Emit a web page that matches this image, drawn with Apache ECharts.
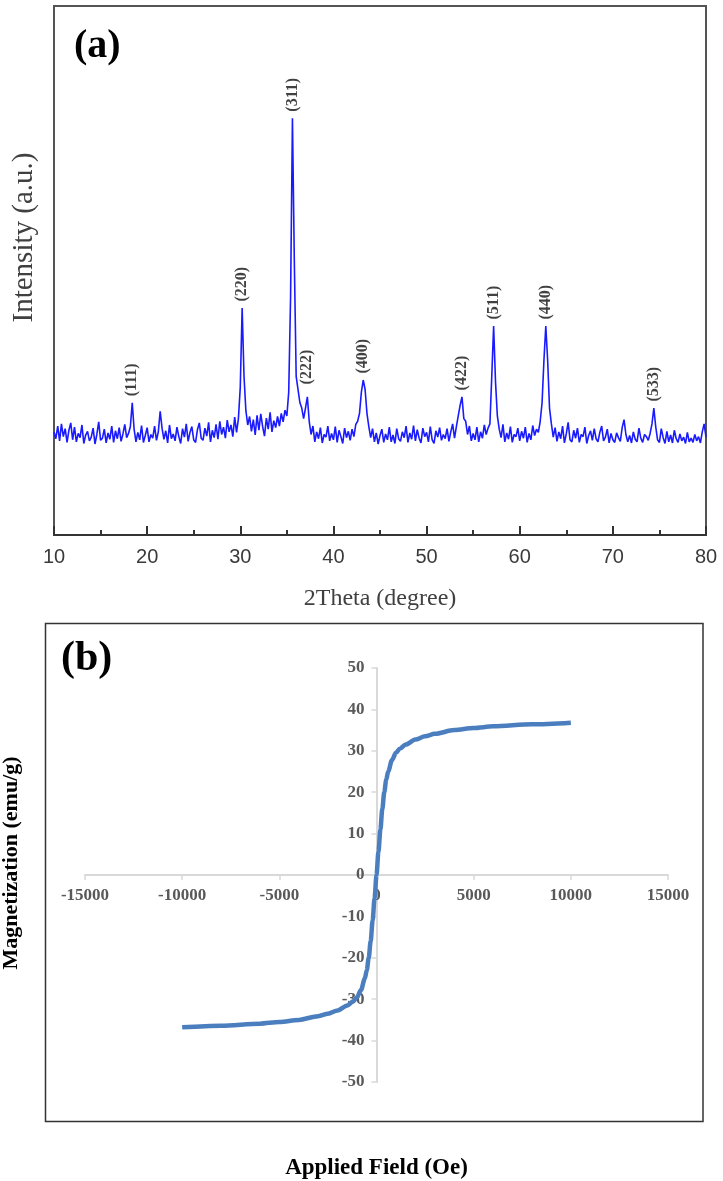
<!DOCTYPE html>
<html>
<head>
<meta charset="utf-8">
<script src="https://cdn.jsdelivr.net/npm/echarts@6/dist/echarts.min.js"></script>
<style>
html, body { margin: 0; padding: 0; background: #fff; }
#chart { width: 723px; height: 1181px; }
</style>
</head>
<body>
<div id="chart"></div>
<script>
// (a) XRD pattern, sampled every 0.2 degree from 10 to 80
var angleStart = 10
var angleStep = 0.2
var intensity = [
  19.5, 18.2, 20.6, 17.8, 21.0, 18.6, 20.1, 17.5, 19.8, 21.2,
  18.0, 20.4, 17.6, 19.2, 18.4, 20.8, 17.3, 18.9, 19.6, 17.8,
  18.5, 20.2, 17.2, 19.0, 21.4, 17.9, 18.3, 20.0, 17.4, 19.3,
  18.1, 20.6, 17.5, 19.7, 18.2, 20.3, 17.7, 19.1, 20.9, 18.4,
  19.2, 20.5, 25.0, 20.0, 17.6, 19.4, 18.0, 20.7, 17.5, 18.8,
  20.3, 17.6, 19.0, 18.3, 20.6, 17.9, 19.5, 23.4, 20.2, 18.1,
  19.7, 17.4, 20.8, 18.2, 19.1, 17.8, 20.4, 18.6, 17.3, 20.1,
  18.5, 21.0, 17.7, 19.4, 20.5, 18.0, 17.5, 19.9, 21.2, 18.3,
  17.9, 20.2, 18.7, 21.3, 17.6, 19.8, 18.4, 20.9, 18.1, 21.5,
  19.0, 20.4, 18.3, 21.7, 19.5, 20.8, 18.6, 22.3, 19.4, 22.0,
  28.0, 42.9, 30.0, 23.5, 20.8, 22.4, 19.6, 21.8, 18.9, 22.6,
  19.8, 22.9, 20.5, 18.7, 22.1, 20.0, 23.2, 19.5, 21.6, 20.3,
  22.4, 20.6, 23.0, 21.4, 23.6, 22.5, 27.0, 45.0, 78.8, 52.0,
  30.0, 27.5, 25.0, 24.0, 22.0, 24.0, 26.1, 21.5, 19.0, 20.6,
  17.6, 19.5, 18.2, 20.3, 17.4, 19.0, 18.5, 20.6, 17.8, 19.2,
  18.0, 20.5, 17.5, 19.8, 18.6, 17.3, 20.2, 18.4, 19.6, 17.9,
  20.0, 18.6, 20.9, 21.5, 23.0, 27.0, 29.3, 27.5, 23.0, 20.5,
  18.4, 20.1, 17.6, 19.3, 17.2, 18.8, 20.0, 17.5, 19.1, 18.0,
  20.4, 17.6, 18.9, 17.3, 20.1, 18.2, 17.7, 19.5, 18.4, 20.6,
  17.5, 19.3, 18.1, 20.7, 17.8, 19.9, 18.3, 17.4, 20.2, 18.6,
  19.4, 17.6, 20.5, 18.0, 17.3, 19.7, 18.5, 20.3, 17.9, 19.0,
  18.2, 20.1, 17.7, 19.5, 21.0, 18.3, 20.5, 22.5, 24.5, 26.1,
  22.0, 21.5, 19.0, 20.6, 17.8, 19.2, 18.0, 20.4, 17.6, 19.5,
  18.3, 20.8, 19.0, 20.2, 21.0, 30.0, 39.5, 29.0, 22.5, 20.0,
  18.4, 20.9, 17.6, 19.3, 18.1, 20.5, 17.5, 19.0, 18.6, 20.2,
  17.8, 19.6, 18.3, 20.4, 17.5, 19.2, 18.0, 20.7, 18.8, 20.0,
  19.4, 21.5, 25.0, 33.0, 39.5, 33.0, 24.0, 21.0, 18.5, 20.3,
  17.7, 19.5, 18.2, 20.6, 17.4, 19.1, 21.3, 18.0, 17.6, 19.8,
  18.3, 20.2, 17.5, 19.0, 18.6, 20.4, 17.3, 18.8, 19.7, 17.9,
  20.1, 18.2, 17.6, 19.4, 20.6, 17.8, 18.5, 20.0, 17.4, 19.2,
  18.0, 17.5, 19.3, 18.4, 17.7, 20.3, 21.8, 19.0, 17.6, 18.8,
  17.4, 19.5, 18.1, 17.6, 20.2, 18.3, 17.5, 19.0, 18.6, 17.9,
  19.2, 21.0, 24.0, 20.5, 18.0, 17.5, 20.1, 18.4, 17.3, 19.6,
  17.6, 18.9, 17.4, 19.8, 18.2, 17.5, 19.1, 17.8, 18.5, 17.3,
  19.4, 17.6, 18.3, 17.5, 19.0, 17.8, 18.6, 17.4, 19.5, 21.0,
  18.5
]
var angleTicks = [10, 20, 30, 40, 50, 60, 70, 80]

// peak indexing
var peakName = ['(111)', '(220)', '(311)', '(222)', '(400)', '(422)', '(511)', '(440)', '(533)']
var peakAngle = [18.4, 30.2, 35.6, 37.2, 43.2, 53.8, 57.2, 62.8, 74.4]
var peakHeight = [25.0, 42.9, 78.8, 26.1, 29.3, 26.1, 39.5, 39.5, 24.0]

// (b) M-H loop
var field = [-10000, -8000, -6000, -5000, -4000, -3000, -2500, -2000, -1500, -1200, -1000, -800, -600, -500, -400, -300, -200, -100, 0,
  100, 200, 300, 400, 500, 600, 800, 1000, 1200, 1500, 2000, 2500, 3000, 4000, 5000, 6000, 8000, 10000]
var magnetization = [-36.8, -36.4, -35.9, -35.5, -35.0, -34.1, -33.5, -32.7, -31.5, -30.5, -29.5, -27.8, -25.0, -23.0, -20.0, -16.0, -11.0, -5.6, 0,
  5.6, 11.0, 16.0, 20.0, 23.0, 25.0, 27.8, 29.5, 30.5, 31.5, 32.7, 33.5, 34.1, 35.0, 35.5, 35.9, 36.4, 36.8]

var serif = 'Liberation Serif'
var chart = echarts.init(document.getElementById('chart'))

var xrd = intensity.map(function (v, i) {
  return [+(angleStart + i * angleStep).toFixed(1), v]
})
var peaks = peakName.map(function (n, i) {
  var item = { value: [peakAngle[i], peakHeight[i]], name: n }
  if (n === '(222)') item.label = { distance: 12 } // label sits a bit higher over the shoulder
  return item
})
var mh = field.map(function (f, i) { return [f, magnetization[i]] })

// grid (b) box, axes cross at zero inside it
var gb = { left: 85, top: 668, width: 583, height: 414 }
var plain = function (v) { return String(v) }

var option = {
  animation: false,
  backgroundColor: '#fff',
  grid: [
    { left: 54, right: 17, top: 6, height: 529, show: true, borderColor: '#555', borderWidth: 2, containLabel: false, outerBoundsMode: 'none' },
    { left: gb.left, top: gb.top, width: gb.width, height: gb.height, containLabel: false, outerBoundsMode: 'none' }
  ],
  xAxis: [
    {
      gridIndex: 0,
      type: 'value',
      min: angleTicks[0],
      max: angleTicks[angleTicks.length - 1],
      interval: 10,
      axisLine: { lineStyle: { color: '#333', width: 2 } },
      axisTick: { inside: true, length: 9, lineStyle: { color: '#333', width: 2 } },
      minorTick: { show: true, splitNumber: 2, length: 5, lineStyle: { color: '#333', width: 2 } },
      splitLine: { show: false },
      axisLabel: { fontFamily: 'Liberation Sans', fontSize: 20, color: '#3a3a3a', margin: 12 },
      name: '2Theta (degree)',
      nameLocation: 'middle',
      nameGap: 52,
      nameTextStyle: { fontFamily: serif, fontSize: 24, color: '#404040' }
    },
    {
      gridIndex: 1,
      type: 'value',
      min: -15000,
      max: 15000,
      interval: 5000,
      offset: -gb.height / 2, // sit on M = 0
      axisLine: { onZero: false, lineStyle: { color: '#d9d9d9', width: 2 } },
      axisTick: { length: 5, lineStyle: { color: '#d9d9d9', width: 1.5 } },
      splitLine: { show: false },
      axisLabel: { fontFamily: serif, fontWeight: 'bold', fontSize: 17, color: '#595959', margin: 12, formatter: plain },
      name: 'Applied Field (Oe)',
      nameLocation: 'middle',
      nameGap: 282,
      nameTextStyle: { fontFamily: serif, fontWeight: 'bold', fontSize: 23, color: '#000' }
    }
  ],
  yAxis: [
    {
      gridIndex: 0,
      type: 'value',
      min: 0,
      max: 100,
      axisLine: { show: false },
      axisTick: { show: false },
      axisLabel: { show: false },
      splitLine: { show: false },
      name: 'Intensity (a.u.)',
      nameLocation: 'middle',
      nameRotate: 90,
      nameGap: 15,
      nameTextStyle: { fontFamily: serif, fontSize: 29, color: '#404040', padding: [0, 0, 0, 66] }
    },
    {
      gridIndex: 1,
      type: 'value',
      min: -50,
      max: 50,
      interval: 10,
      offset: -gb.width / 2, // sit on H = 0
      axisLine: { onZero: false, lineStyle: { color: '#d9d9d9', width: 2 } },
      axisTick: { length: 5, lineStyle: { color: '#d9d9d9', width: 1.5 } },
      splitLine: { show: false },
      axisLabel: { fontFamily: serif, fontWeight: 'bold', fontSize: 17, color: '#595959', margin: 12, formatter: plain },
      name: 'Magnetization (emu/g)',
      nameLocation: 'middle',
      nameRotate: 90,
      nameGap: 354,
      nameTextStyle: { fontFamily: serif, fontWeight: 'bold', fontSize: 22, color: '#000', padding: [0, 0, 0, 24] }
    }
  ],
  graphic: [
    { type: 'rect', shape: { x: 45.5, y: 623.5, width: 657.5, height: 498 }, style: { fill: 'none', stroke: '#333', lineWidth: 1.5 } },
    { type: 'text', left: 74, top: 27, style: { text: '(a)', font: 'bold 40px "Liberation Serif"', fill: '#000' } },
    { type: 'text', left: 61, top: 638, style: { text: '(b)', font: 'bold 42px "Liberation Serif"', fill: '#000' } }
  ],
  series: [
    {
      type: 'line',
      xAxisIndex: 0,
      yAxisIndex: 0,
      data: xrd,
      showSymbol: false,
      lineStyle: { color: '#1a1aff', width: 1.6 }
    },
    {
      type: 'scatter',
      xAxisIndex: 0,
      yAxisIndex: 0,
      data: peaks,
      symbolSize: 1,
      itemStyle: { color: 'rgba(0,0,0,0)' },
      label: {
        show: true,
        formatter: '{b}',
        position: 'top',
        distance: 6,
        rotate: 90,
        align: 'left',
        verticalAlign: 'middle',
        fontFamily: serif,
        fontWeight: 'bold',
        fontSize: 16,
        color: '#111'
      }
    },
    {
      type: 'line',
      xAxisIndex: 1,
      yAxisIndex: 1,
      data: mh,
      smooth: 0.3,
      smoothMonotone: 'x',
      showSymbol: false,
      lineStyle: { color: '#4a7ebf', width: 4.5 }
    }
  ]
}
chart.setOption(option)
</script>
</body>
</html>
